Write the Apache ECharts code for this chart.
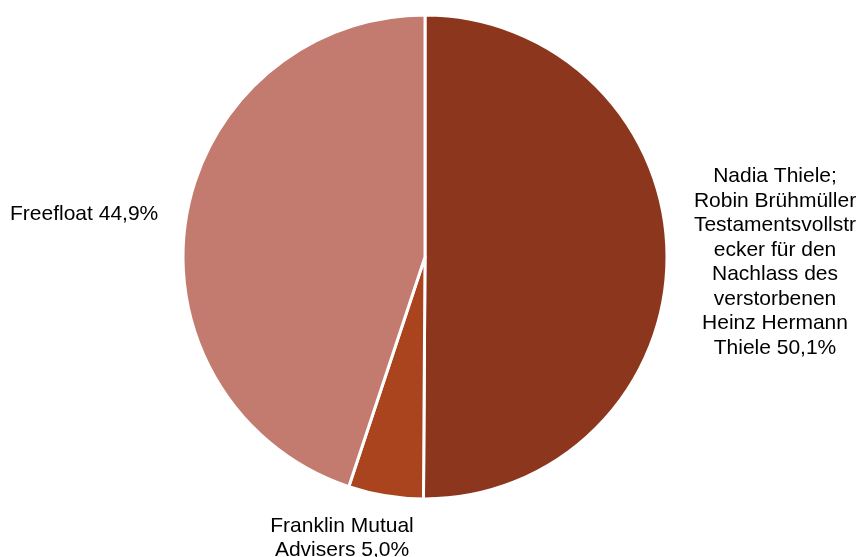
<!DOCTYPE html>
<html>
<head>
<meta charset="utf-8">
<script src="https://cdn.jsdelivr.net/npm/echarts@6/dist/echarts.min.js"></script>
<style>
html, body { margin: 0; padding: 0; background: #fff; }
#shareholders { width: 862px; height: 557px; }
</style>
</head>
<body>
<div id="shareholders"></div>
<script>
// Aktionärsstruktur
var names = [
	'Nadia Thiele;\nRobin Brühmüller\nTestamentsvollstr\necker für den\nNachlass des\nverstorbenen\nHeinz Hermann\nThiele',
	'Franklin Mutual\nAdvisers',
	'Freefloat'
];
var shares = [50.1, 5.0, 44.9];
var colors = ['#8B361D', '#A9441F', '#C47B6F'];

// label anchor points (px), one per slice
var labelPos = [
	{ x: 775, y: 262, align: 'center' },
	{ x: 342, y: 538, align: 'center' },
	{ x: 10, y: 214, align: 'left' }
];

var chart = echarts.init(document.getElementById('shareholders'));

chart.setOption({
	animation: false,
	series: [{
		type: 'pie',
		center: [425, 257],
		radius: [0, 242],
		startAngle: 90,
		clockwise: true,
		avoidLabelOverlap: false,
		itemStyle: {
			borderColor: '#ffffff',
			borderWidth: 3
		},
		label: {
			show: true,
			position: 'outside',
			color: '#000',
			fontFamily: '"Liberation Sans", Arial, sans-serif',
			fontSize: 21,
			lineHeight: 24.5,
			formatter: function (p) {
				return p.name + ' ' + p.value.toFixed(1).replace('.', ',') + '%';
			}
		},
		labelLine: { show: false },
		labelLayout: function (p) {
			var pos = labelPos[p.dataIndex];
			return { x: pos.x, y: pos.y, align: pos.align, verticalAlign: 'middle' };
		},
		data: shares.map(function (v, i) {
			return { name: names[i], value: v, itemStyle: { color: colors[i] } };
		})
	}]
});
</script>
</body>
</html>
